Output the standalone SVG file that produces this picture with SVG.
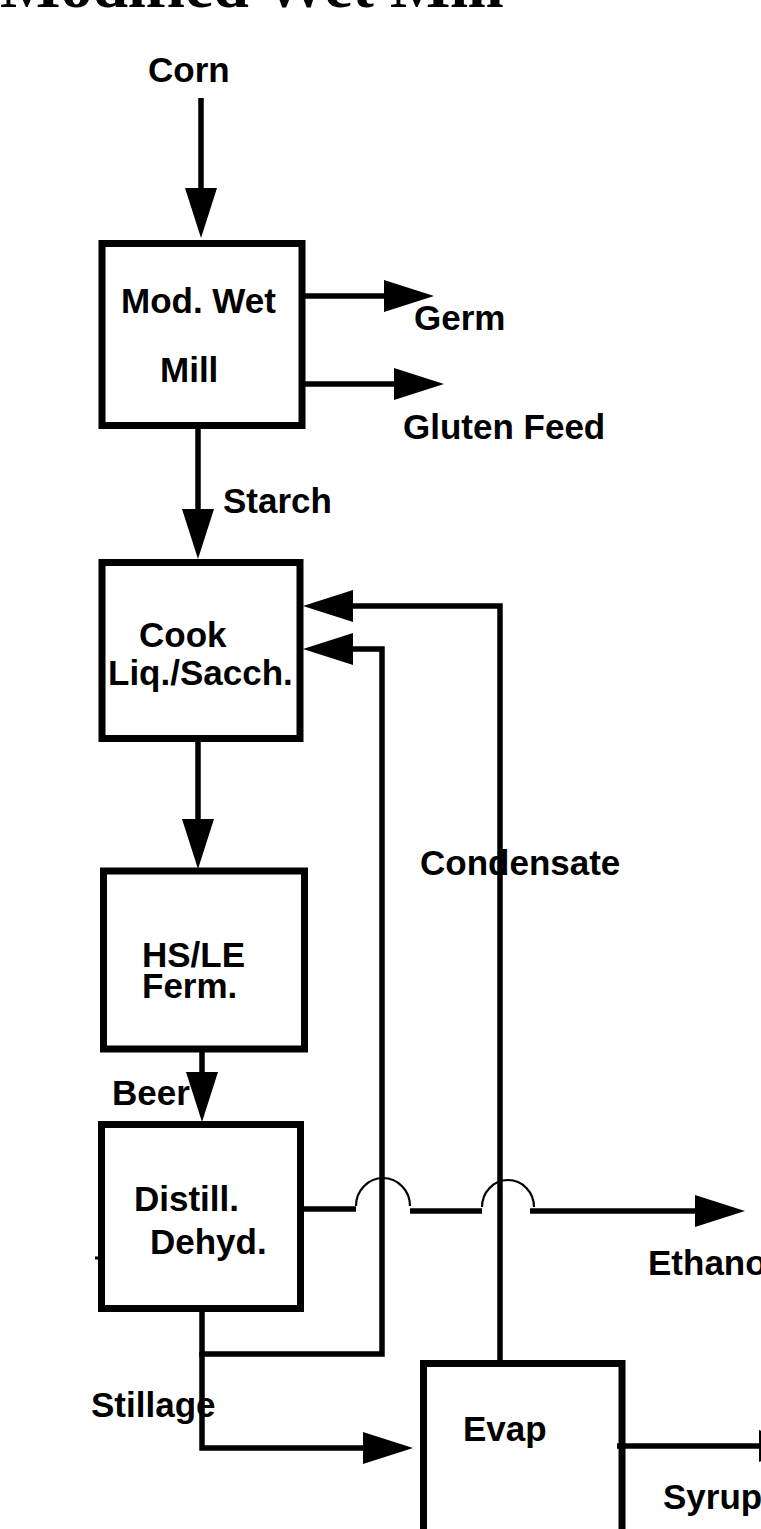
<svg xmlns="http://www.w3.org/2000/svg" width="761" height="1529" viewBox="0 0 761 1529">
<style>
.t{font-family:"Liberation Sans",Arial,sans-serif;font-weight:bold;font-size:35px;fill:#000}
.title{font-family:"Liberation Serif","Times New Roman",serif;font-weight:bold;font-size:64px;fill:#000}
.box{fill:none;stroke:#000;stroke-width:7}
.ln{fill:none;stroke:#000;stroke-width:5.5}
.arc{fill:none;stroke:#000;stroke-width:2.2}
</style>
<defs>
<marker id="ah" viewBox="0 0 50 32" refX="40" refY="16" markerWidth="50" markerHeight="32" markerUnits="userSpaceOnUse" orient="auto">
<path d="M0,0 L50,16 L0,32 z" fill="#000"/>
</marker>
</defs>
<rect width="761" height="1529" fill="#fff"/>
<text class="title" x="0" y="7">Modified Wet Mill</text>

<g id="corn"><text class="t" x="148" y="82">Corn</text></g>

<g id="modwetmill">
<rect class="box" x="102" y="243.5" width="200" height="182"/>
<text class="t" x="121" y="313">Mod. Wet</text>
<text class="t" x="160" y="382">Mill</text>
</g>

<g id="cook">
<rect class="box" x="102" y="562.5" width="198" height="176"/>
<text class="t" x="139" y="647">Cook</text>
<text class="t" x="108" y="685">Liq./Sacch.</text>
</g>

<g id="ferm">
<rect class="box" x="103.5" y="871" width="201" height="178"/>
<text class="t" x="142" y="967">HS/LE</text>
<text class="t" x="142" y="998">Ferm.</text>
</g>

<g id="distill">
<rect class="box" x="101.5" y="1124.5" width="199" height="184"/>
<text class="t" x="134" y="1211">Distill.</text>
<text class="t" x="150" y="1254">Dehyd.</text>
<line x1="95" y1="1258" x2="99" y2="1258" stroke="#000" stroke-width="3"/>
</g>

<g id="evap">
<rect class="box" x="423.5" y="1363.5" width="198.5" height="250"/>
<text class="t" x="463" y="1441">Evap</text>
</g>

<g id="connectors">
<line class="ln" x1="201" y1="98" x2="201" y2="228" marker-end="url(#ah)"/>
<line class="ln" x1="302" y1="296" x2="424" y2="296" marker-end="url(#ah)"/>
<text class="t" x="414" y="330">Germ</text>
<line class="ln" x1="302" y1="384" x2="434" y2="384" marker-end="url(#ah)"/>
<text class="t" x="403" y="439">Gluten Feed</text>
<line class="ln" x1="198" y1="426" x2="198" y2="549" marker-end="url(#ah)"/>
<text class="t" x="223" y="513">Starch</text>
<line class="ln" x1="198" y1="739" x2="198" y2="859" marker-end="url(#ah)"/>
<line class="ln" x1="202" y1="1049" x2="202" y2="1112" marker-end="url(#ah)"/>
<text class="t" x="112" y="1105">Beer</text>

<text class="t" x="420" y="875">Condensate</text>
<polyline class="ln" points="500,1361 500,606 313,606" marker-end="url(#ah)"/>
<polyline class="ln" points="202,1309 202,1354 382,1354 382,649 313,649" marker-end="url(#ah)"/>
<polyline class="ln" points="202,1352 202,1448 403,1448" marker-end="url(#ah)"/>
<text class="t" x="91" y="1417">Stillage</text>

<line class="ln" x1="297" y1="1209" x2="356" y2="1209"/>
<path class="arc" d="M356,1206 A27,28 0 0 1 410,1206"/>
<line class="ln" x1="410" y1="1211" x2="482" y2="1211"/>
<path class="arc" d="M482,1207 A26,27 0 0 1 534,1207"/>
<line class="ln" x1="530" y1="1211" x2="735" y2="1211" marker-end="url(#ah)"/>
<text class="t" x="648" y="1275">Ethanol</text>

<line class="ln" x1="617" y1="1446" x2="770" y2="1446"/>
<path d="M759,1430 L800,1446 L759,1462 z" fill="#000"/>
<text class="t" x="663" y="1509">Syrup</text>
</g>
</svg>
